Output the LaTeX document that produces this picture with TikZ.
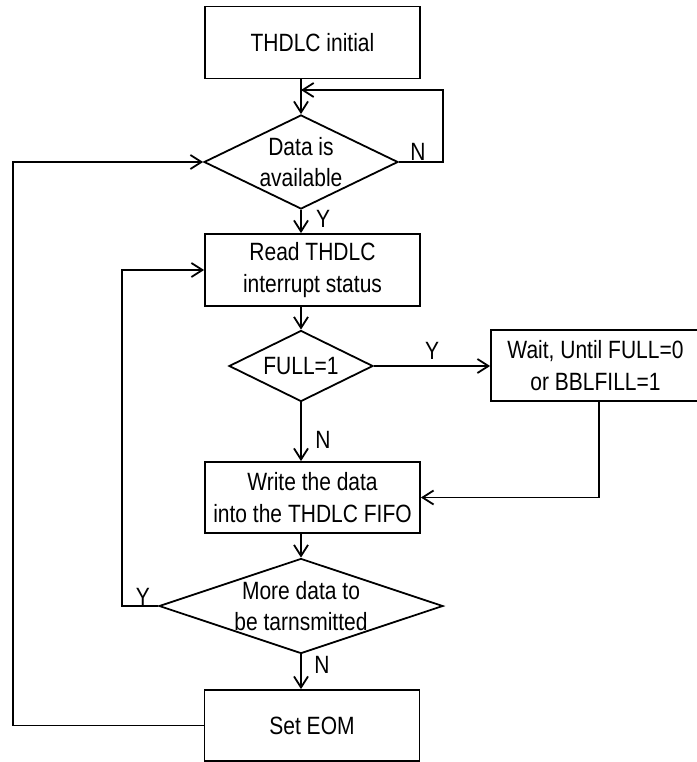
\documentclass[tikz,border=0pt]{standalone}
\usepackage{fontspec}
\setmainfont{Liberation Sans}[FakeStretch=0.84]
\usetikzlibrary{shapes.geometric,arrows.meta}
\begin{document}
\begin{tikzpicture}[x=1pt,y=-1pt,
  every node/.style={font=\fontsize{25}{31.5}\selectfont},
  box/.style={draw, line width=1.8pt, minimum width=215pt, minimum height=72pt, inner sep=0pt, align=center},
  dia/.style={draw, diamond, line width=1.8pt, inner sep=0pt},
  txt/.style={align=center, inner sep=0pt},
  lbl/.style={inner sep=0pt},
  arr/.style={line width=1.8pt, -{Straight Barb[length=11pt,width=14pt,line width=1.8pt]}}]
\useasboundingbox (0,0) rectangle (696,762);
% nodes
\node[box] (init) at (312.5,42.5) {THDLC initial};
\node[dia, minimum width=194pt, minimum height=94pt] (d1) at (301,162) {};
\node[txt] (d1t) at (d1) {Data is\\available};
\node[box] (read) at (312.5,270) {Read THDLC\\interrupt status};
\node[dia, minimum width=144pt, minimum height=71pt] (d2) at (301,366) {};
\node[txt] (d2t) at (d2) {FULL=1};
\node[box, minimum width=209pt, minimum height=71pt] (wait) at (595.5,365.5) {Wait, Until FULL=0\\or BBLFILL=1};
\node[box, minimum height=71pt] (write) at (312.5,497.5) {Write the data\\into the THDLC FIFO};
\node[dia, minimum width=284pt, minimum height=95pt] (d3) at (301,606) {};
\node[txt] (d3t) at (d3) {More data to\\be tarnsmitted};
\node[box, minimum height=71pt] (eom) at (312,725.5) {Set EOM};
% helper coordinates
\coordinate (j1) at (301,90);
\coordinate (r1) at (443,162);
\coordinate (w1) at (599,497.5);
\coordinate (l1) at (122,606);
\coordinate (l2) at (122,270);
\coordinate (b1) at (13,725.5);
\coordinate (b2) at (13,162);
% connectors
\draw[arr] (init.south -| d1.north) -- (d1.north);
\draw[arr] (d1.east) -- (r1) |- (j1);
\draw[arr] (d1.south) -- (read.north -| d1.south);
\draw[arr] (read.south -| d2.north) -- (d2.north);
\draw[arr] (d2.east) -- (d2.east -| wait.west);
\draw[arr] (d2.south) -- (d2.south |- write.north);
\draw[arr] (wait.south -| w1) -- (w1) -- (write.east);
\draw[arr] (write.south -| d3.north) -- (d3.north);
\draw[arr] (d3.west) -- (l1) -- (l2) -- (read.west);
\draw[arr] (d3.south) -- (d3.south |- eom.north);
\draw[arr] (eom.west) -- (b1) -- (b2) -- (d1.west);
% labels
\node[lbl] (nA) at (418,152) {N};
\node[lbl] (yA) at (323,219) {Y};
\node[lbl] (yB) at (432,351) {Y};
\node[lbl] (nB) at (323,440) {N};
\node[lbl] (yC) at (143,597) {Y};
\node[lbl] (nC) at (322,665) {N};
\end{tikzpicture}
\end{document}
